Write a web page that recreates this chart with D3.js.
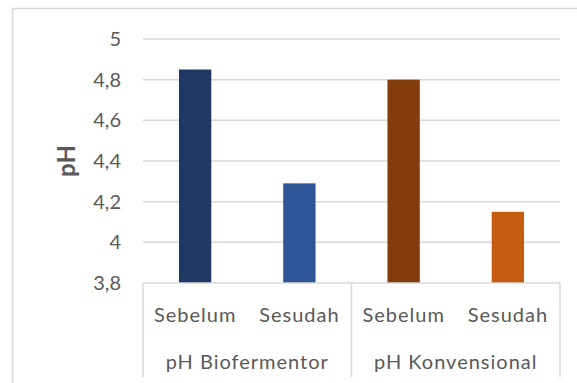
<!DOCTYPE html>
<html>
<head>
<meta charset="utf-8">
<script src="https://cdn.jsdelivr.net/npm/d3@7"></script>
<style>
  html, body { margin: 0; padding: 0; background: #fff; }
  svg { display: block; }
  text { font-family: Lato, "Open Sans", sans-serif; fill: #595959; }
</style>
</head>
<body>
<svg id="chart" width="577" height="383"></svg>
<script>
// pH before and after, for the biofermentor and the conventional method
const groups = ["pH Biofermentor", "pH Konvensional"];
const phases = ["Sebelum", "Sesudah"];
const phValues = [4.85, 4.29, 4.80, 4.15];
const barColors = ["#203864", "#2e5597", "#843c0c", "#c55a11"];
const yTicks = [3.8, 4.0, 4.2, 4.4, 4.6, 4.8, 5.0];

const bars = phValues.map((v, i) => ({
  group: groups[Math.floor(i / phases.length)],
  phase: phases[i % phases.length],
  key: i,
  value: v,
  color: barColors[i]
}));

const svg = d3.select("#chart");
const margin = { left: 143, right: 17, top: 39, bottom: 100 };
const W = 577, H = 383;

// chart area frame
svg.append("rect")
  .attr("x", 12.5).attr("y", 8.5)
  .attr("width", 700).attr("height", 500)
  .attr("fill", "none").attr("stroke", "#d9d9d9").attr("stroke-width", 1.5);

const x = d3.scaleBand()
  .domain(bars.map(d => d.key))
  .range([margin.left, W - margin.right])
  .paddingInner(0.69).paddingOuter(0.345);

const y = d3.scaleLinear()
  .domain([3.8, 5])
  .range([H - margin.bottom, margin.top]);

const fmt = v => d3.format(".1f")(v).replace(/\.0$/, "").replace(".", ",");

// horizontal gridlines
svg.append("g")
  .selectAll("line")
  .data(yTicks.filter(t => t > 3.8))
  .join("line")
  .attr("x1", margin.left).attr("x2", W - margin.right)
  .attr("y1", d => y(d)).attr("y2", d => y(d))
  .attr("stroke", "#d9d9d9").attr("stroke-width", 1.5);

// y axis labels
const yAxis = d3.axisLeft(y).tickValues(yTicks).tickFormat(fmt).tickSize(0).tickPadding(22);
const gy = svg.append("g").attr("transform", `translate(${margin.left},0)`).call(yAxis);
gy.select(".domain").remove();
gy.selectAll("text")
  .style("font-family", "Lato, 'Open Sans', sans-serif")
  .style("font-size", "20px")
  .attr("fill", "#595959");

// bars
svg.append("g")
  .selectAll("rect")
  .data(bars)
  .join("rect")
  .attr("x", d => x(d.key))
  .attr("y", d => y(d.value))
  .attr("width", x.bandwidth())
  .attr("height", d => y(3.8) - y(d.value))
  .attr("fill", d => d.color);

// category axis with grouped labels
const axisY = y(3.8);
const step = x.step();
const groupEdges = [margin.left, margin.left + 2 * step, W - margin.right];
const ax = svg.append("g");
ax.append("line")
  .attr("x1", margin.left).attr("x2", W - margin.right)
  .attr("y1", axisY).attr("y2", axisY)
  .attr("stroke", "#d9d9d9").attr("stroke-width", 1.5);
ax.selectAll("line.sep")
  .data(groupEdges)
  .join("line")
  .attr("class", "sep")
  .attr("x1", d => d).attr("x2", d => d)
  .attr("y1", axisY).attr("y2", 377)
  .attr("stroke", "#d9d9d9").attr("stroke-width", 1.5);

ax.selectAll("text.phase")
  .data(bars)
  .join("text")
  .attr("class", "phase")
  .attr("x", d => x(d.key) + x.bandwidth() / 2)
  .attr("y", 322)
  .attr("text-anchor", "middle")
  .style("font-size", "20px")
  .style("letter-spacing", "1px")
  .text(d => d.phase);

ax.selectAll("text.group")
  .data(groups)
  .join("text")
  .attr("class", "group")
  .attr("x", (d, i) => (groupEdges[i] + groupEdges[i + 1]) / 2)
  .attr("y", 369)
  .attr("text-anchor", "middle")
  .style("font-size", "20px")
  .style("letter-spacing", "1px")
  .text(d => d);

// y axis title
svg.append("text")
  .attr("transform", `translate(75,${(y(5) + y(3.8)) / 2}) rotate(-90)`)
  .attr("text-anchor", "middle")
  .style("font-size", "24px")
  .style("font-weight", "bold")
  .text("pH");
</script>
</body>
</html>
